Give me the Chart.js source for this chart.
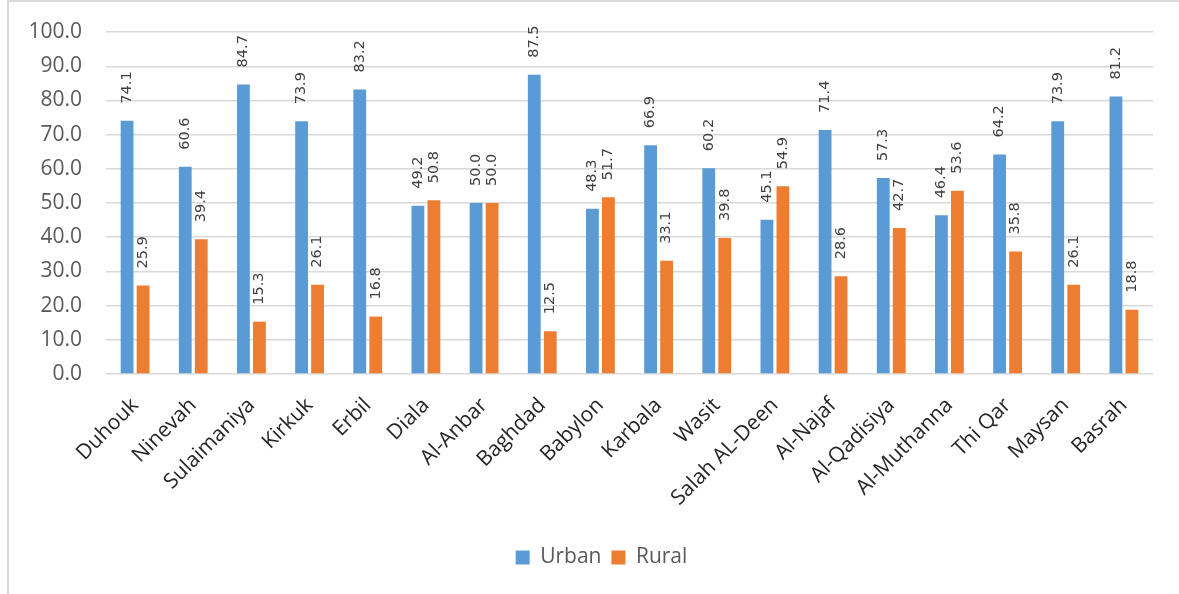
<!DOCTYPE html>
<html>
<head>
<meta charset="utf-8">
<script src="https://cdn.jsdelivr.net/npm/chart.js@4"></script>
<style>
  html, body { margin: 0; padding: 0; background: #fff; }
  #wrap { position: relative; width: 1179px; height: 594px; overflow: hidden; }
  #frame { position: absolute; left: 7px; top: 0px; width: 1300px; height: 700px;
           border-left: 2px solid #d9d9d9; border-top: 2px solid #d9d9d9; box-sizing: border-box; }
  canvas { position: absolute; left: 0; top: 0; }
</style>
</head>
<body>
<div id="wrap">
  <div id="frame"></div>
  <canvas id="c" width="1179" height="594"></canvas>
</div>
<script>
const categories = ["Duhouk", "Ninevah", "Sulaimaniya", "Kirkuk", "Erbil", "Diala", "Al-Anbar", "Baghdad", "Babylon", "Karbala", "Wasit", "Salah AL-Deen", "Al-Najaf", "Al-Qadisiya", "Al-Muthanna", "Thi Qar", "Maysan", "Basrah"];
const urbanValues = [74.1, 60.6, 84.7, 73.9, 83.2, 49.2, 50.0, 87.5, 48.3, 66.9, 60.2, 45.1, 71.4, 57.3, 46.4, 64.2, 73.9, 81.2];
const ruralValues = [25.9, 39.4, 15.3, 26.1, 16.8, 50.8, 50.0, 12.5, 51.7, 33.1, 39.8, 54.9, 28.6, 42.7, 53.6, 35.8, 26.1, 18.8];
const seriesNames = ["Urban", "Rural"];
const yTicks = [0, 10, 20, 30, 40, 50, 60, 70, 80, 90, 100];

const valueLabels = {
  id: 'valueLabels',
  beforeDraw(chart) {
    const l = chart.legend;
    if (l) { l.left = 50; l.right = 1153; }
  },
  afterDatasetsDraw(chart) {
    const ctx = chart.ctx;
    ctx.save();
    ctx.font = '14.5px "DejaVu Sans"';
    ctx.fillStyle = '#404040';
    ctx.textAlign = 'left';
    ctx.textBaseline = 'middle';
    chart.data.datasets.forEach((ds, di) => {
      const meta = chart.getDatasetMeta(di);
      meta.data.forEach((bar, i) => {
        const v = ds.data[i];
        ctx.save();
        ctx.translate(bar.x, bar.y - 17);
        ctx.rotate(-Math.PI / 2);
        ctx.fillText(v.toFixed(1), 0, 0);
        ctx.restore();
      });
    });
    ctx.restore();
  }
};

new Chart(document.getElementById('c'), {
  type: 'bar',
  data: {
    labels: categories,
    datasets: [
      { label: seriesNames[0], data: urbanValues, backgroundColor: '#5B9BD5' },
      { label: seriesNames[1], data: ruralValues, backgroundColor: '#ED7D31' }
    ]
  },
  options: {
    responsive: false,
    animation: false,
    devicePixelRatio: 1,
    layout: { padding: { left: 0, right: 26, top: 20, bottom: 16 } },
    datasets: { bar: { categoryPercentage: 0.55, barPercentage: 0.8 } },
    plugins: {
      legend: {
        position: 'bottom',
        labels: {
          font: { family: '"Open Sans"', size: 21 },
          color: '#595959',
          boxWidth: 14, boxHeight: 14,
          padding: 10
        }
      },
      tooltip: { enabled: false }
    },
    scales: {
      x: {
        grid: { display: false },
        border: { display: false },
        ticks: {
          font: { family: '"Open Sans"', size: 21 },
          color: '#262626',
          maxRotation: 45, minRotation: 45,
          padding: 11,
          autoSkip: false
        },
        afterFit(scale) { scale.height = 163; }
      },
      y: {
        min: 0, max: 100,
        afterBuildTicks(scale) { scale.ticks = yTicks.map(v => ({ value: v })); },
        grid: { color: '#d9d9d9', lineWidth: 1.5, drawTicks: true, tickLength: 4.5, tickColor: 'rgba(0,0,0,0)' },
        border: { display: false },
        ticks: {
          font: { family: '"Open Sans"', size: 21 },
          color: '#595959',
          padding: 19.5,
          callback: v => Number(v).toFixed(1)
        },
        afterFit(scale) { scale.width = 106; }
      }
    }
  },
  plugins: [valueLabels]
});
</script>
</body>
</html>
